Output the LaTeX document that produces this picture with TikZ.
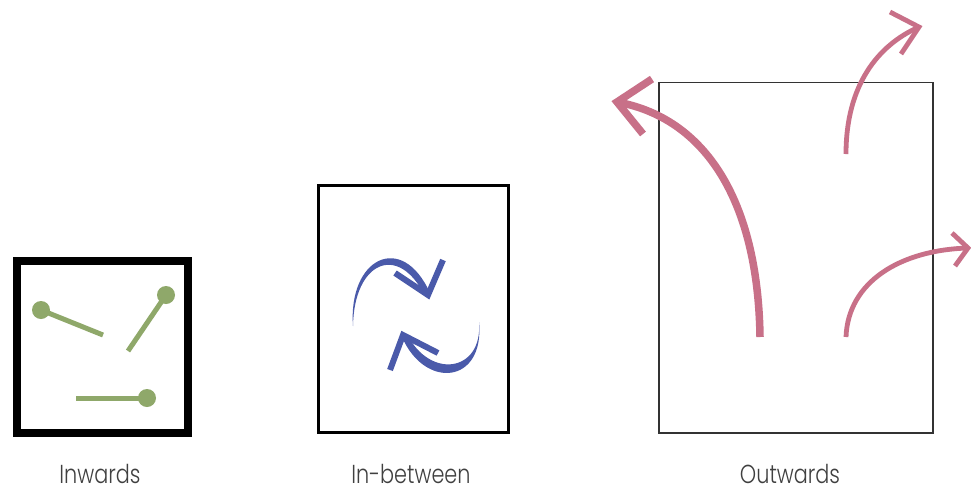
\documentclass[tikz,border=0pt]{standalone}
\usepackage{fontspec}
\setmainfont{Poppins}[UprightFont=* Light]
\begin{document}
\begin{tikzpicture}[x=1pt,y=-1pt]
\definecolor{grn}{RGB}{143,168,106}
\definecolor{blu}{RGB}{74,90,170}
\definecolor{pnk}{RGB}{200,112,136}
\tikzset{
  lbl/.style={font=\fontsize{26}{28}\selectfont, text=black!75, inner sep=0pt, anchor=base},
  stick/.style={draw=grn, line width=5pt},
  ball/.style={circle, fill=grn, minimum size=18pt, inner sep=0pt},
  bhead/.style={draw=blu, line width=6pt, miter limit=10},
  pbig/.style={draw=pnk, line width=7.5pt},
  psmall/.style={draw=pnk, line width=4.8pt},
}
\newcommand{\narrow}[1]{\scalebox{0.8}[1]{#1}}
\useasboundingbox (0,0) rectangle (971,493);
\fill[white] (0,0) rectangle (971,493);
% boxes
\draw[line width=8pt] (17,261) rectangle (188,433);
\draw[line width=2.5pt] (318.5,185.5) rectangle (508.5,432.5);
\draw[line width=1.2pt, black!80] (659,82.5) rectangle (933,433);
% inwards
\node[ball] (b1) at (41,310) {};
\coordinate (e1) at (103,335);
\draw[stick] (b1.center) -- (e1);
\node[ball] (b2) at (166,295) {};
\coordinate (e2) at (128,351);
\draw[stick] (b2.center) -- (e2);
\node[ball] (b3) at (147,398) {};
\coordinate (e3) at (76,398);
\draw[stick] (b3.center) -- (e3);
% in-between
\fill[blu] (353,326) .. controls (348,258) and (402,231) .. (430,293)
  -- (425,296) .. controls (398,242) and (354,262) .. cycle;
\draw[bhead] (395,273) -- (428,295) -- (443,260);
\fill[blu] (479,322) .. controls (485,384) and (425,390) .. (402,337)
  -- (407,334) .. controls (430,380) and (483,372) .. cycle;
\draw[bhead] (438,353) -- (403,335) -- (390,370);
% outwards
\coordinate (s1) at (760,337);
\coordinate (t1) at (617,102);
\draw[pbig] (s1) .. controls (758,200) and (705,118) .. (t1);
\draw[pbig, miter limit=10] (652,79) -- (t1) -- (643,134);
\coordinate (s2) at (846,154);
\coordinate (t2) at (919,27);
\draw[psmall] (s2) .. controls (846,85) and (878,45) .. (t2);
\draw[psmall, miter limit=10] (890,12) -- (t2) -- (901,54);
\coordinate (s3) at (846,337);
\coordinate (t3) at (968,248);
\draw[psmall] (s3) .. controls (848,282) and (900,250) .. (t3);
\draw[psmall, miter limit=10] (952,233) -- (t3) -- (955,266);
% labels
\node[lbl] (l1) at (100,483) {\narrow{Inwards}};
\node[lbl] (l2) at (411,483) {\narrow{In-between}};
\node[lbl] (l3) at (790,483) {\narrow{Outwards}};
\end{tikzpicture}
\end{document}
